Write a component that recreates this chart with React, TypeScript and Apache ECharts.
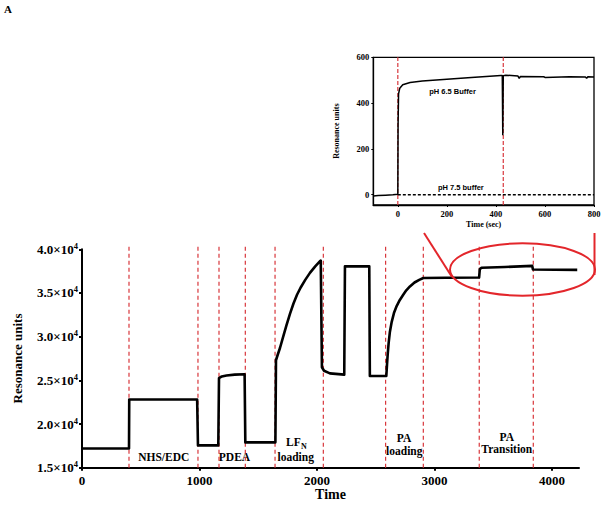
import React, { useEffect, useRef } from "react";
import * as echarts from "echarts";

// Main sensorgram (time in s, resonance units)
const mainTime = [0, 400, 402, 980, 987, 1160, 1166, 1190, 1230, 1300, 1384, 1390, 1646, 1651, 1665, 1685, 1710, 1740, 1770, 1800, 1830, 1860, 1900, 1940, 1985, 2026, 2032, 2042, 2060, 2110, 2232, 2238, 2445, 2450, 2590, 2596, 2602, 2610, 2620, 2636, 2655, 2678, 2705, 2734, 2760, 2791, 2830, 2870, 2905, 3100, 3380, 3386, 3400, 3600, 3832, 3838, 4215];
const mainRU = [17200, 17200, 22800, 22800, 17550, 17550, 25250, 25450, 25560, 25650, 25700, 17900, 17900, 27300, 27900, 28700, 29900, 31300, 32600, 33800, 34800, 35600, 36500, 37300, 38050, 38650, 38700, 26500, 26100, 25800, 25650, 38050, 38050, 25500, 25500, 26800, 28000, 29300, 30500, 31700, 32700, 33500, 34200, 34800, 35300, 35750, 36200, 36500, 36720, 36740, 36780, 37750, 37880, 37980, 38100, 37680, 37650];
const phaseLines = [400, 987, 1166, 1390, 1643, 2054, 2584, 2905, 3381, 3841];
const mainXTicks = [0, 1000, 2000, 3000, 4000];

// Inset: pH 6.5 buffer trace
const insetTime65 = [-100, -80, -50, -20, 0, 1, 3, 8, 20, 50, 100, 200, 300, 420, 426, 428, 430, 440, 490, 495, 500, 595, 600, 700, 765, 770, 775, 800];
const insetRU65 = [-6, -4, -2, 0, 2, 300, 440, 465, 480, 490, 496, 504, 512, 520, 520, 260, 520, 522, 518, 508, 516, 515, 512, 515, 514, 508, 515, 514];
// Inset: pH 7.5 buffer trace
const insetTime75 = [0, 200, 400, 600, 800];
const insetRU75 = [0, 0, 0, 0, 0];
const insetPhaseLines = [0, 430];
const insetXTicks = [0, 200, 400, 600, 800];
const insetYTicks = [0, 200, 400, 600];

const RED_DASH = "#d8373c";
const RED = "#e3262b";
const SERIF = "'Liberation Serif', 'Times New Roman', serif";
const SANS = "'Liberation Sans', Arial, sans-serif";

export default function App() {
  const ref = useRef<HTMLDivElement>(null);
  useEffect(() => {
    if (!ref.current) return;
    const chart = echarts.init(ref.current, undefined, { renderer: "svg" });
    const mainData = mainTime.map((t, i) => [t, mainRU[i]]);
    const in65 = insetTime65.map((t, i) => [t, insetRU65[i]]);
    const in75 = insetTime75.map((t, i) => [t, insetRU75[i]]);

    const dashSeries = phaseLines.map((t) => ({
      type: "line",
      xAxisIndex: 0,
      yAxisIndex: 0,
      data: [
        [t, 15000],
        [t, 40450],
      ],
      symbol: "none",
      clip: false,
      silent: true,
      z: 1,
      lineStyle: { color: RED_DASH, width: 1.2, type: [4, 3] },
    }));
    const insetDash = insetPhaseLines.map((t) => ({
      type: "line",
      xAxisIndex: 1,
      yAxisIndex: 1,
      data: [
        [t, -45],
        [t, 600],
      ],
      symbol: "none",
      silent: true,
      z: 1,
      lineStyle: { color: RED_DASH, width: 1.2, type: [4, 2] },
    }));

    const option: any = {
      animation: false,
      grid: [
        { left: 82, top: 249.3, width: 497, height: 218.4, show: false },
        {
          left: 373.3,
          top: 57.3,
          width: 220.7,
          height: 147.7,
          show: true,
          borderColor: "#000",
          borderWidth: 1.3,
          backgroundColor: "transparent",
        },
      ],
      xAxis: [
        {
          type: "value",
          gridIndex: 0,
          min: 0,
          max: 4230,
          interval: 1000,
          name: "Time",
          nameLocation: "middle",
          nameGap: 20,
          nameTextStyle: { fontFamily: SERIF, fontWeight: "bold", fontSize: 14, color: "#000" },
          axisLine: { show: true, onZero: false, lineStyle: { color: "#000", width: 2 } },
          axisTick: { show: true, length: 3, customValues: mainXTicks, lineStyle: { color: "#000", width: 2 } },
          axisLabel: {
            customValues: mainXTicks,
            formatter: (v: number) => String(v),
            margin: 6,
            fontFamily: SERIF,
            fontWeight: "bold",
            fontSize: 13,
            color: "#000",
          },
          splitLine: { show: false },
        },
        {
          type: "value",
          gridIndex: 1,
          min: -100,
          max: 800,
          name: "Time (sec)",
          nameLocation: "middle",
          nameGap: 15,
          nameTextStyle: { fontFamily: SERIF, fontWeight: "bold", fontSize: 8, color: "#000" },
          axisLine: { show: true, onZero: false, lineStyle: { color: "#000", width: 1.3 } },
          axisTick: { show: true, length: 2, customValues: insetXTicks, lineStyle: { color: "#000" } },
          axisLabel: {
            customValues: insetXTicks,
            formatter: (v: number) => String(v),
            margin: 4,
            fontFamily: SERIF,
            fontWeight: "bold",
            fontSize: 8.5,
            color: "#000",
          },
          splitLine: { show: false },
        },
      ],
      yAxis: [
        {
          type: "value",
          gridIndex: 0,
          min: 15000,
          max: 40000,
          interval: 5000,
          name: "Resonance units",
          nameLocation: "middle",
          nameGap: 58,
          nameTextStyle: { fontFamily: SERIF, fontWeight: "bold", fontSize: 13, color: "#000" },
          axisLine: { show: true, onZero: false, lineStyle: { color: "#000", width: 2 } },
          axisTick: { show: true, length: 3, lineStyle: { color: "#000", width: 2 } },
          axisLabel: {
            margin: 4,
            formatter: (v: number) => `{m|${(v / 10000).toFixed(1)}×10}{s|4}`,
            rich: {
              m: { fontFamily: SERIF, fontWeight: "bold", fontSize: 13, color: "#000", lineHeight: 16 },
              s: { fontFamily: SERIF, fontWeight: "bold", fontSize: 8.5, color: "#000", lineHeight: 9, verticalAlign: "top" },
            },
          },
          splitLine: { show: false },
        },
        {
          type: "value",
          gridIndex: 1,
          min: -45,
          max: 600,
          name: "Resonance units",
          nameLocation: "middle",
          nameGap: 33,
          nameTextStyle: { fontFamily: SERIF, fontWeight: "bold", fontSize: 8, color: "#000" },
          axisLine: { show: true, onZero: false, lineStyle: { color: "#000", width: 1.3 } },
          axisTick: { show: true, length: 2, customValues: insetYTicks, lineStyle: { color: "#000" } },
          axisLabel: {
            customValues: insetYTicks,
            formatter: (v: number) => String(v),
            margin: 4,
            fontFamily: SERIF,
            fontWeight: "bold",
            fontSize: 8.5,
            color: "#000",
          },
          splitLine: { show: false },
        },
      ],
      series: [
        ...dashSeries,
        ...insetDash,
        {
          type: "line",
          xAxisIndex: 0,
          yAxisIndex: 0,
          data: mainData,
          symbol: "none",
          z: 3,
          lineStyle: { color: "#000", width: 2.6, join: "round" },
        },
        {
          type: "line",
          xAxisIndex: 1,
          yAxisIndex: 1,
          data: in75,
          symbol: "none",
          z: 3,
          lineStyle: { color: "#000", width: 1.5, type: [3, 2] },
        },
        {
          type: "line",
          xAxisIndex: 1,
          yAxisIndex: 1,
          data: in65,
          symbol: "none",
          z: 4,
          lineStyle: { color: "#000", width: 1.5 },
        },
      ],
      graphic: [
        { type: "text", left: 4, top: 3, style: { text: "A", font: `bold 11px ${SERIF}`, fill: "#000" } },
        {
          type: "text",
          x: 452.5,
          y: 91.7,
          style: { text: "pH 6.5 Buffer", font: `bold 7.5px ${SANS}`, fill: "#000", align: "center", verticalAlign: "middle" },
        },
        {
          type: "text",
          x: 460.8,
          y: 187.7,
          style: { text: "pH 7.5 buffer", font: `bold 7.5px ${SANS}`, fill: "#000", align: "center", verticalAlign: "middle" },
        },
        {
          type: "text",
          x: 163.7,
          y: 456.7,
          style: { text: "NHS/EDC", font: `bold 11.5px ${SERIF}`, fill: "#000", align: "center", verticalAlign: "middle" },
        },
        {
          type: "text",
          x: 234.5,
          y: 456.7,
          style: { text: "PDEA", font: `bold 11.5px ${SERIF}`, fill: "#000", align: "center", verticalAlign: "middle" },
        },
        {
          type: "text",
          x: 300.7,
          y: 441.7,
          style: { text: "LF", font: `bold 11.5px ${SERIF}`, fill: "#000", align: "right", verticalAlign: "middle" },
        },
        {
          type: "text",
          x: 300.9,
          y: 446.3,
          style: { text: "N", font: `bold 8px ${SERIF}`, fill: "#000", align: "left", verticalAlign: "middle" },
        },
        {
          type: "text",
          x: 295.7,
          y: 457.3,
          style: { text: "loading", font: `bold 11.5px ${SERIF}`, fill: "#000", align: "center", verticalAlign: "middle" },
        },
        {
          type: "text",
          x: 404,
          y: 438.3,
          style: { text: "PA", font: `bold 11.5px ${SERIF}`, fill: "#000", align: "center", verticalAlign: "middle" },
        },
        {
          type: "text",
          x: 404.3,
          y: 450.7,
          style: { text: "loading", font: `bold 11.5px ${SERIF}`, fill: "#000", align: "center", verticalAlign: "middle" },
        },
        {
          type: "text",
          x: 506.7,
          y: 436.7,
          style: { text: "PA", font: `bold 11.5px ${SERIF}`, fill: "#000", align: "center", verticalAlign: "middle" },
        },
        {
          type: "text",
          x: 506.8,
          y: 449.3,
          style: { text: "Transition", font: `bold 11.5px ${SERIF}`, fill: "#000", align: "center", verticalAlign: "middle" },
        },
        {
          type: "ellipse",
          shape: { cx: 522.5, cy: 269.5, rx: 72.5, ry: 26.2 },
          style: { fill: "none", stroke: RED, lineWidth: 2 },
          z: 10,
        },
        {
          type: "line",
          shape: { x1: 424, y1: 233, x2: 452, y2: 277 },
          style: { stroke: RED, lineWidth: 2 },
          z: 10,
        },
        {
          type: "line",
          shape: { x1: 594.5, y1: 233, x2: 594.5, y2: 275 },
          style: { stroke: RED, lineWidth: 2 },
          z: 10,
        },
      ],
    };
    chart.setOption(option);
    return () => chart.dispose();
  }, []);
  return (
    <div
      ref={ref}
      style={{ position: "fixed", left: 0, top: 0, width: 604, height: 507, background: "#fff" }}
    />
  );
}
